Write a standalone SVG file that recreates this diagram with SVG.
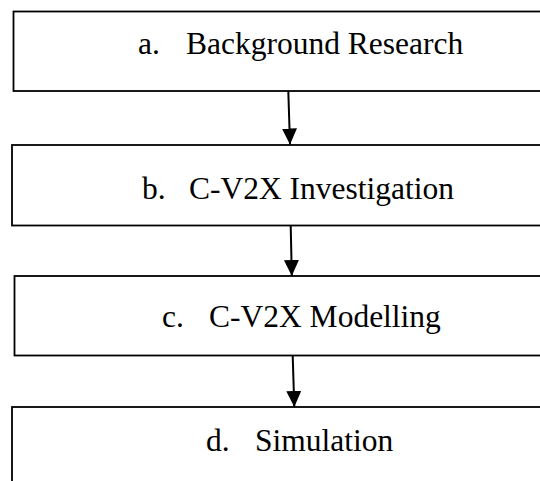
<svg xmlns="http://www.w3.org/2000/svg" width="540" height="481" viewBox="0 0 540 481">
  <style>
    .box { fill: #ffffff; stroke: #000000; stroke-width: 1.8; }
    .lbl { font-family: "Liberation Serif", "Times New Roman", serif; font-size: 31.5px; fill: #000000; }
    .link { stroke: #000000; stroke-width: 2; fill: none; }
  </style>
  <defs>
    <marker id="arrowhead" markerUnits="userSpaceOnUse" markerWidth="18" markerHeight="18" viewBox="0 0 18 18" refX="16" refY="9" orient="auto">
      <path d="M0,1.5 L16,9 L0,16.5 Z" fill="#000000"/>
    </marker>
  </defs>
  <rect width="540" height="481" fill="#ffffff"/>

  <g id="node-a">
    <rect class="box" x="13.5" y="11.5" width="560" height="79.5"/>
    <text class="lbl" x="138" y="53.5">a.</text>
    <text class="lbl" x="186" y="53.5">Background Research</text>
  </g>

  <g id="node-b">
    <rect class="box" x="12" y="145" width="560" height="80.5"/>
    <text class="lbl" x="142" y="198.5">b.</text>
    <text class="lbl" x="189" y="198.5">C-V2X Investigation</text>
  </g>

  <g id="node-c">
    <rect class="box" x="14.5" y="276" width="560" height="79.5"/>
    <text class="lbl" x="162" y="327">c.</text>
    <text class="lbl" x="209" y="327">C-V2X Modelling</text>
  </g>

  <g id="node-d">
    <rect class="box" x="12" y="407" width="560" height="100"/>
    <text class="lbl" x="206" y="451">d.</text>
    <text class="lbl" x="255" y="451">Simulation</text>
  </g>

  <g id="connectors">
    <line class="link" x1="288.3" y1="91" x2="290" y2="144.5" marker-end="url(#arrowhead)"/>
    <line class="link" x1="290.7" y1="225.5" x2="291.8" y2="276" marker-end="url(#arrowhead)"/>
    <line class="link" x1="292.7" y1="355.5" x2="294.3" y2="407" marker-end="url(#arrowhead)"/>
  </g>
</svg>
